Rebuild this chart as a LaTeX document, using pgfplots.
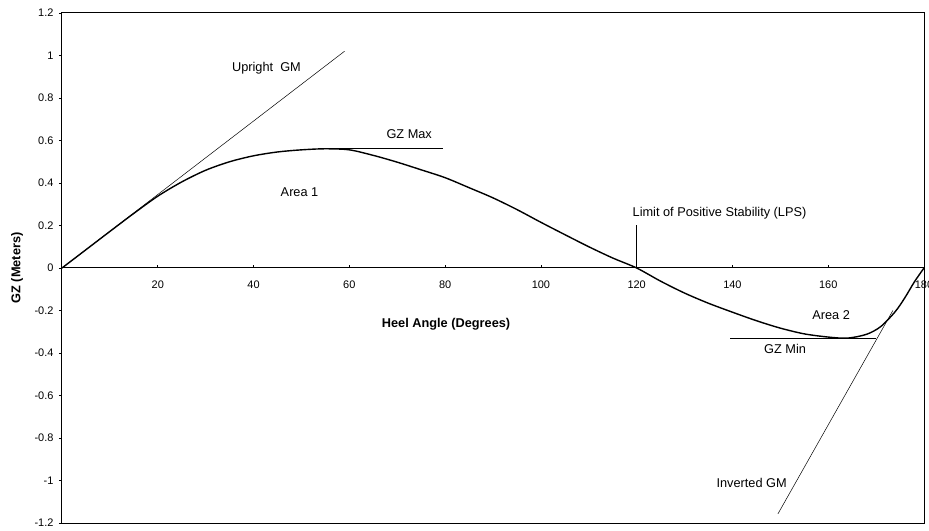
\documentclass[border=0pt]{standalone}
\usepackage{pgfplots}
\pgfplotsset{compat=1.18}
\usepackage{fontspec}
\setmainfont{Liberation Sans}
\begin{document}
\begin{tikzpicture}[font=\fontsize{11}{13}\selectfont]
\useasboundingbox (-62bp,-8bp) rectangle (867bp,523bp);
\pgfplotsset{
  common/.style={
    scale only axis, width=862bp, height=510bp,
    xmin=0, xmax=180, ymin=-1.2, ymax=1.2,
    /pgf/number format/assume math mode=true,
    tick style={black, line width=0.6bp},
  }
}
\def\ann{\fontsize{12.8}{15}\selectfont}
\begin{axis}[common,
  axis line style={black, line width=1bp},
  xtick=\empty,
  ytick={-1.2,-1,-0.8,-0.6,-0.4,-0.2,0,0.2,0.4,0.6,0.8,1,1.2},
  ytick pos=left, tick align=outside, major tick length=3bp,
  yticklabel style={xshift=-2bp},
  every axis y label/.style={at={(axis description cs:-0.0522,0.5)}, rotate=90, anchor=center},
  ylabel={\ann\bfseries GZ (Meters)},
  clip=false,
]
% GZ curve
\addplot[black, line width=1.4bp, smooth, tension=0.5] coordinates {
(0,0) (5,0.086) (10,0.172) (15,0.257) (20,0.338) (25,0.405) (30,0.46)
(35,0.5) (40,0.528) (45,0.546) (50,0.556) (55,0.561) (60,0.556)
(65,0.53) (70,0.498) (75,0.462) (80,0.425) (85,0.378) (90,0.33)
(95,0.275) (100,0.215) (105,0.157) (110,0.1) (115,0.047) (120,0)
(125,-0.062) (130,-0.118) (135,-0.166) (140,-0.208) (145,-0.248)
(150,-0.283) (155,-0.31) (160,-0.325) (164,-0.33) (168,-0.312)
(171,-0.275) (174,-0.205) (176,-0.14) (178,-0.065) (180,0)
};
% Upright GM tangent
\addplot[black, line width=0.5bp] coordinates {(0,0) (59,1.02)};
% GZ Max line
\addplot[black, line width=1.4bp] coordinates {(55,0.562) (79.5,0.562)};
% GZ Min line
\addplot[black, line width=0.8bp] coordinates {(139.5,-0.33) (170,-0.33)};
% Inverted GM tangent
\addplot[black, line width=0.5bp] coordinates {(149.5,-1.157) (173.5,-0.2)};
% LPS marker
\addplot[black, line width=0.7bp] coordinates {(120,0) (120,0.2)};
\node[font=\ann] at (axis cs:42.7,0.94) {Upright\ \ GM};
\node[font=\ann] at (axis cs:72.5,0.63) {GZ Max};
\node[font=\ann] at (axis cs:49.6,0.357) {Area 1};
\node[font=\ann] at (axis cs:137.3,0.257) {Limit of Positive Stability (LPS)};
\node[font=\ann] at (axis cs:160.6,-0.22) {Area 2};
\node[font=\ann] at (axis cs:151,-0.38) {GZ Min};
\node[font=\ann] at (axis cs:144,-1.01) {Inverted GM};
\node[font=\ann\bfseries] at (axis cs:80.2,-0.264) {Heel Angle (Degrees)};
\end{axis}
\begin{axis}[common,
  axis x line=middle, axis y line=none,
  axis line style={-, black, line width=1bp},
  xtick={20,40,60,80,100,120,140,160,180},
  tick align=inside, major tick length=3bp,
  xticklabel style={yshift=-9bp},
]
\end{axis}
\end{tikzpicture}
\end{document}
